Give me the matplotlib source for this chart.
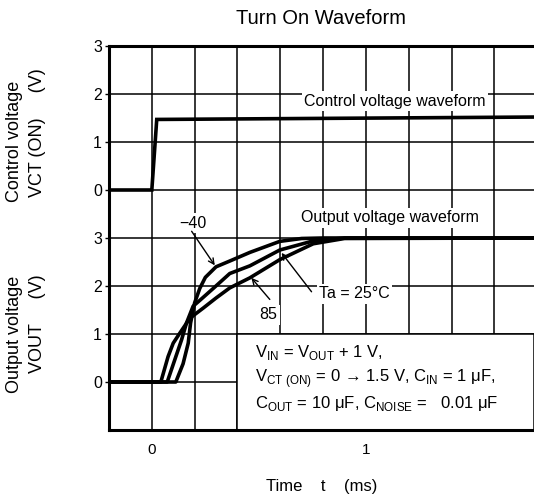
import numpy as np
import matplotlib
matplotlib.use("Agg")
import matplotlib.pyplot as plt
from matplotlib.patches import Rectangle

plt.rcParams['font.family'] = ['Liberation Sans', 'DejaVu Sans']
plt.rcParams['mathtext.fontset'] = 'custom'
plt.rcParams['mathtext.rm'] = 'Liberation Sans'

# control voltage waveform (V), drawn shifted up by 4 grid units
t_ctrl = [-0.2, 0.0, 0.023, 1.785]
v_ctrl = [0.0, 0.0, 1.47, 1.52]

# output voltage waveforms (V) for Ta = -40, 25, 85 degC
t_m40 = [-0.2, 0.112, 0.146, 0.17, 0.181, 0.2, 0.224, 0.25, 0.3, 0.364, 0.458, 0.598, 0.70, 0.8, 1.785]
v_m40 = [0.0, 0.0, 0.38, 0.81, 1.23, 1.65, 1.95, 2.18, 2.40, 2.52, 2.70, 2.93, 2.99, 3.0, 3.0]

t_25 = [-0.2, 0.072, 0.107, 0.139, 0.162, 0.193, 0.224, 0.287, 0.364, 0.458, 0.598, 0.754, 0.9, 1.785]
v_25 = [0.0, 0.0, 0.46, 0.88, 1.23, 1.58, 1.70, 1.95, 2.26, 2.42, 2.75, 2.94, 3.0, 3.0]

t_85 = [-0.2, 0.042, 0.076, 0.10, 0.131, 0.178, 0.24, 0.30, 0.364, 0.458, 0.598, 0.754, 0.9, 1.785]
v_85 = [0.0, 0.0, 0.53, 0.81, 1.02, 1.33, 1.54, 1.75, 1.96, 2.17, 2.55, 2.88, 2.99, 3.0]

ctrl_offset = 4
ytick_pos = [0, 1, 2, 3, 4, 5, 6, 7]
ytick_lab = ['0', '1', '2', '3', '0', '1', '2', '3']
xtick_pos = [0, 0.2, 0.4, 0.6, 0.8, 1.0, 1.2, 1.4, 1.6]
xtick_lab = ['0', '', '', '', '', '1', '', '', '']

fig = plt.figure(figsize=(5.34, 5.0), dpi=100)
ax = fig.add_axes([109/534, 1-430/500, 1-109/534, (430-46)/500])

ax.set_xlim(-0.2, 1.785)
ax.set_ylim(-1, 7)
ax.set_xticks(xtick_pos)
ax.set_xticklabels(xtick_lab, fontsize=11)
ax.set_yticks(ytick_pos)
ax.set_yticklabels(ytick_lab, fontsize=11.5)
ax.tick_params(axis='x', length=0, pad=9)
ax.tick_params(axis='y', length=3, width=1, pad=2)
ax.grid(True, color='black', linewidth=1.1, zorder=0)
ax.set_axisbelow(True)
for s in ['left', 'top', 'bottom']:
    ax.spines[s].set_linewidth(2.2)
ax.spines['right'].set_visible(False)

# conditions box
ax.add_patch(Rectangle((0.4, -1), 1.385, 2, facecolor='white', edgecolor='black',
                       linewidth=1.1, zorder=1))

lw = 2.6
ax.plot(t_ctrl, np.array(v_ctrl) + ctrl_offset, color='black', lw=lw, zorder=3, solid_joinstyle='miter')
ax.plot(t_m40, v_m40, color='black', lw=lw, zorder=3)
ax.plot(t_25, v_25, color='black', lw=lw, zorder=3)
ax.plot(t_85, v_85, color='black', lw=lw, zorder=3)

wbox = dict(boxstyle='square,pad=0.15', facecolor='white', edgecolor='none')
ax.text(1.135, 5.85, 'Control voltage waveform', fontsize=11.5, ha='center', va='center',
        bbox=wbox, zorder=4)
ax.text(1.11, 3.42, 'Output voltage waveform', fontsize=11.5, ha='center', va='center',
        bbox=wbox, zorder=4)

arr = dict(arrowstyle='->', color='black', lw=1.0, shrinkA=0, shrinkB=0)
ax.annotate('\u221240', xy=(0.294, 2.43), xytext=(0.193, 3.31), fontsize=11.5,
            ha='center', va='center', bbox=wbox, zorder=4)
ax.annotate('', xy=(0.294, 2.43), xytext=(0.186, 3.14), arrowprops=arr, zorder=4)
ax.annotate('85', xy=(0.465, 2.17), xytext=(0.545, 1.40), fontsize=11.5,
            ha='center', va='center', bbox=wbox, zorder=4)
ax.annotate('', xy=(0.465, 2.17), xytext=(0.551, 1.72), arrowprops=arr, zorder=4)
ax.annotate('Ta = 25°C', xy=(0.606, 2.69), xytext=(0.946, 1.84), fontsize=11.5,
            ha='center', va='center', bbox=wbox, zorder=4)
ax.annotate('', xy=(0.606, 2.69), xytext=(0.746, 1.88), arrowprops=arr, zorder=4)

cond = [r'V$_{\mathrm{IN}}$ = V$_{\mathrm{OUT}}$ + 1 V,',
        r'V$_{\mathrm{CT\ (ON)}}$ = 0 → 1.5 V, C$_{\mathrm{IN}}$ = 1 μF,',
        r'C$_{\mathrm{OUT}}$ = 10 μF, C$_{\mathrm{NOISE}}$ =   0.01 μF']
for txt, yy in zip(cond, [0.62, 0.08, -0.45]):
    ax.text(0.48, yy, txt, fontsize=12, ha='left', va='center', zorder=4)

fig.text(0.5 * (109 + 534) / 534, 1 - 18/500, 'Turn On Waveform', fontsize=14.5,
         ha='center', va='center')
fig.text(0.5 * (109 + 534) / 534, 1 - 487/500, 'Time    t    (ms)', fontsize=12,
         ha='center', va='center')
fig.text(15/534, 1 - 141/500, 'Control voltage', fontsize=13, rotation=90,
         ha='center', va='center')
fig.text(37/534, 1 - 133/500, 'VCT (ON)     (V)', fontsize=13, rotation=90,
         ha='center', va='center')
fig.text(15/534, 1 - 334/500, 'Output voltage', fontsize=13, rotation=90,
         ha='center', va='center')
fig.text(37/534, 1 - 324/500, 'VOUT     (V)', fontsize=13, rotation=90,
         ha='center', va='center')

fig.savefig('out.png', dpi=100)
